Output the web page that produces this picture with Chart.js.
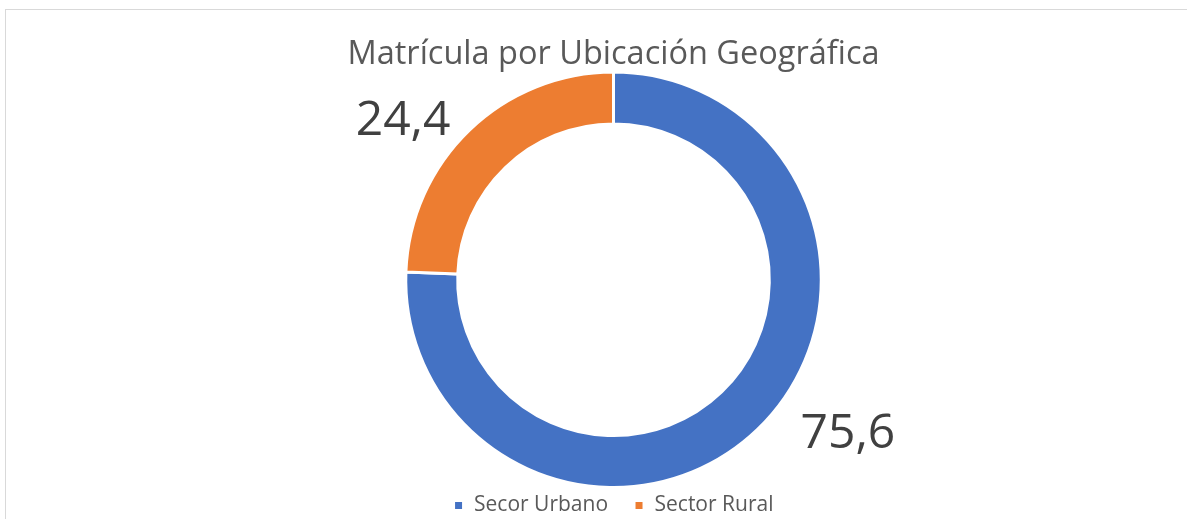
<!DOCTYPE html>
<html>
<head>
<meta charset="utf-8">
<script src="https://cdn.jsdelivr.net/npm/chart.js@4"></script>
<style>
  html, body { margin: 0; padding: 0; background: #fff; }
  body { width: 1187px; height: 519px; position: relative; overflow: hidden; }
  .frame {
    position: absolute; left: 5px; top: 9px; width: 1200px; height: 530px;
    border: 1px solid #d9d9d9; box-sizing: border-box;
  }
  .wrap { position: absolute; left: 0; top: 0; width: 1187px; height: 519px; }
</style>
</head>
<body>
<div class="frame"></div>
<div class="wrap"><canvas id="ubicacionChart"></canvas></div>
<script>
const categories = ["Secor Urbano", "Sector Rural"];
const porcentajes = [75.6, 24.4];
const colores = ["#4472c4", "#ed7d31"];

const fontFamily = "'Open Sans', 'Noto Sans', sans-serif";

// etiquetas grandes fuera del anillo
const outsideLabels = {
  id: "outsideLabels",
  afterDatasetsDraw(chart) {
    const ctx = chart.ctx;
    const meta = chart.getDatasetMeta(0);
    ctx.save();
    ctx.font = "48px " + fontFamily;
    ctx.fillStyle = "#404040";
    ctx.textAlign = "center";
    ctx.textBaseline = "middle";
    meta.data.forEach((arc, i) => {
      const p = arc.getProps(["x", "y", "startAngle", "endAngle", "outerRadius"], true);
      const mid = (p.startAngle + p.endAngle) / 2;
      const ax = p.x + Math.cos(mid) * (p.outerRadius + 10);
      const ay = p.y + Math.sin(mid) * (p.outerRadius + 10);
      const txt = porcentajes[i].toFixed(1).replace(".", ",");
      const w = ctx.measureText(txt).width;
      const side = Math.cos(mid) < 0 ? -1 : 1;
      const gap = side < 0 ? 12 : 36;
      ctx.fillText(txt, ax + side * (w / 2 + gap), ay - 2);
    });
    ctx.restore();
  }
};

// leyenda pegada al borde inferior, con separación amplia entre elementos
const LEGEND_H = 30;
const LEGEND_SHIFT = 20;
const legendTight = {
  id: "legendTight",
  beforeLayout(chart) {
    const lg = chart.legend;
    if (lg && !lg._tightFit) {
      const fit = lg.fit;
      lg.fit = function () {
        fit.call(this);
        this.height = LEGEND_H;
      };
      lg._tightFit = true;
    }
  },
  beforeDraw(chart) {
    chart.legend.top -= LEGEND_SHIFT;
  },
  afterDraw(chart) {
    chart.legend.top += LEGEND_SHIFT;
  }
};

new Chart(document.getElementById("ubicacionChart"), {
  type: "doughnut",
  data: {
    labels: categories,
    datasets: [{
      data: porcentajes,
      backgroundColor: colores,
      borderColor: "#ffffff",
      borderWidth: 3,
      hoverOffset: 0
    }]
  },
  options: {
    responsive: true,
    maintainAspectRatio: false,
    animation: false,
    cutout: "75%",
    layout: { padding: { left: 40, right: 0, top: 0, bottom: 0 } },
    plugins: {
      title: {
        display: true,
        text: "Matrícula por Ubicación Geográfica",
        color: "#595959",
        font: { family: fontFamily, size: 32.5, weight: "normal", lineHeight: 1 },
        padding: { top: 38, bottom: 0 }
      },
      legend: {
        position: "bottom",
        labels: {
          color: "#595959",
          font: { family: fontFamily, size: 21 },
          boxWidth: 10,
          boxHeight: 10,
          padding: 26
        }
      },
      tooltip: { enabled: false }
    }
  },
  plugins: [outsideLabels, legendTight]
});
</script>
</body>
</html>
